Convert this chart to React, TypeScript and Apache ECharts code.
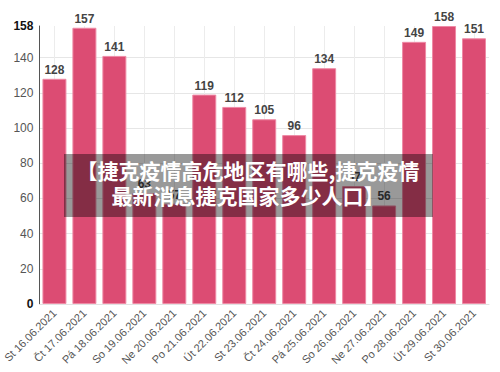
import React, { useEffect, useRef } from "react";
import * as echarts from "echarts";

const categories = [
  "St 16.06.2021", "Čt 17.06.2021", "Pá 18.06.2021", "So 19.06.2021", "Ne 20.06.2021",
  "Po 21.06.2021", "Út 22.06.2021", "St 23.06.2021", "Čt 24.06.2021", "Pá 25.06.2021",
  "So 26.06.2021", "Ne 27.06.2021", "Po 28.06.2021", "Út 29.06.2021", "St 30.06.2021",
];
const values = [128, 157, 141, 63, 57, 119, 112, 105, 96, 134, 67, 56, 149, 158, 151];
const yMax = 158;
const yInterval = 20;
const overlayLines = ["【捷克疫情高危地区有哪些,捷克疫情", "最新消息捷克国家多少人口】"];

export default function App() {
  const ref = useRef<HTMLDivElement>(null);
  useEffect(() => {
    if (!ref.current) return;
    const chart = echarts.init(ref.current, null, { renderer: "svg" });
    const gridColors = ["#e6e6e6", "#e6e6e6", "#e6e6e6", "#e6e6e6", "#e6e6e6", "#e6e6e6", "#e6e6e6", "#e6e6e6", "transparent"];
    chart.setOption({
      animation: false,
      backgroundColor: "#fff",
      grid: { left: 39, right: 11, top: 26, bottom: 68 },
      xAxis: {
        type: "category",
        data: categories,
        axisLine: { show: true, lineStyle: { color: "#e2e2e2" } },
        axisTick: { show: false, alignWithLabel: true },
        splitLine: { show: true, alignWithLabel: true, lineStyle: { color: "#ececec" } },
        axisLabel: {
          rotate: 45,
          fontSize: 11,
          color: "#555",
          fontFamily: "Liberation Sans, Arial, sans-serif",
          margin: 7,
          interval: 0,
        },
      },
      yAxis: {
        type: "value",
        min: 0,
        max: yMax,
        interval: yInterval,
        axisLine: { show: true, lineStyle: { color: "#555" } },
        axisTick: { show: false },
        splitLine: { show: true, lineStyle: { color: gridColors } },
        axisLabel: {
          fontSize: 12,
          color: "#555",
          margin: 6,
          fontFamily: "Liberation Sans, Arial, sans-serif",
          formatter: (v: number) => (v === 0 || v === yMax ? `{b|${v}}` : `${v}`),
          rich: {
            b: { fontWeight: "bold", color: "#111", fontSize: 12, fontFamily: "Liberation Sans, Arial, sans-serif" },
          },
        },
      },
      series: [
        {
          type: "bar",
          data: values,
          barCategoryGap: "20%",
          itemStyle: { color: "#dc4c73", borderColor: "#ee8aa5", borderWidth: 1 },
          label: {
            show: true,
            position: "top",
            distance: 3,
            fontSize: 12,
            fontWeight: "bold",
            color: "#444",
            fontFamily: "Liberation Sans, Arial, sans-serif",
          },
        },
      ],
      graphic: [
        {
          type: "rect",
          z: 100,
          shape: { x: 64, y: 154, width: 369, height: 63 },
          style: { fill: "rgba(0,0,0,0.4)" },
        },
        {
          type: "text",
          z: 101,
          x: 248,
          y: 157,
          style: {
            text: overlayLines.join("\n"),
            fill: "#fff",
            font: "bold 21px 'Noto Sans CJK SC', sans-serif",
            textAlign: "center",
            textVerticalAlign: "top",
            lineHeight: 25,
          },
        },
      ],
    });
    return () => chart.dispose();
  }, []);
  return (
    <div
      ref={ref}
      style={{ position: "fixed", left: 0, top: 0, width: 500, height: 372 }}
    />
  );
}
